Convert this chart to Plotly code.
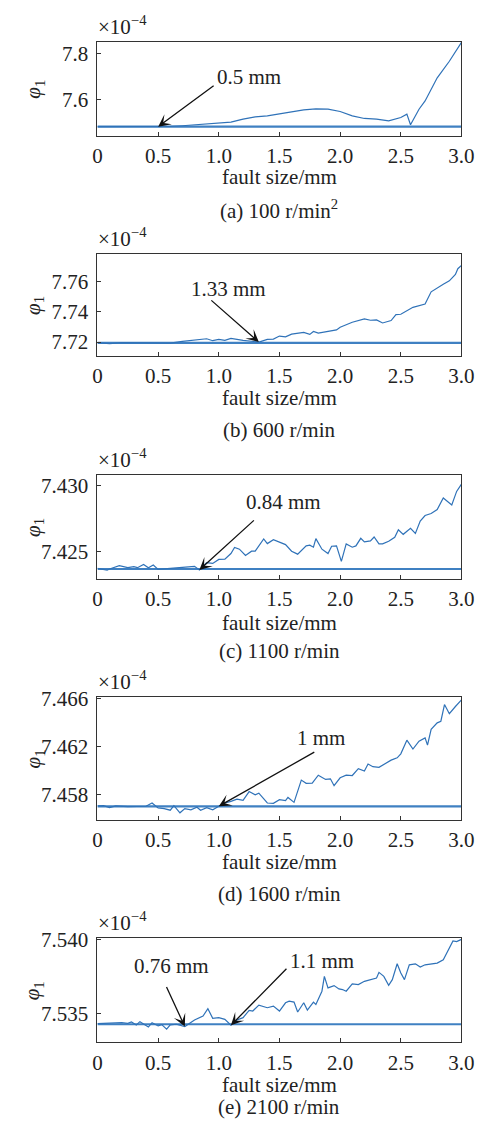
import plotly.graph_objects as go

W, H = 487, 1124
FONT = "Liberation Serif"
FS = 21
CURVE = "#2f72b8"
BASE = "#3f80c2"

# ---------------- data (values in units of 1e-4) ----------------
x_a = [0, 0.5, 0.6, 0.7, 0.8, 0.9, 1.0, 1.1, 1.2, 1.3, 1.4, 1.5, 1.6, 1.7, 1.8, 1.9, 2.0,
       2.1, 2.2, 2.3, 2.4, 2.5, 2.55, 2.58, 2.65, 2.7, 2.8, 2.9, 3.0]
y_a = [7.4835, 7.4835, 7.4849, 7.4878, 7.4921, 7.4950, 7.4993, 7.5036, 7.5165, 7.5266, 7.5309,
       7.5396, 7.5482, 7.5568, 7.5612, 7.5597, 7.5496, 7.5309, 7.5194, 7.5165, 7.5094, 7.5237,
       7.5381, 7.4921, 7.5597, 7.5957, 7.6964, 7.7683, 7.8504]

x_b = [0, 0.1, 0.2, 0.3, 0.4, 0.5, 0.6, 0.7, 0.8, 0.9, 0.95, 1.0, 1.05, 1.1, 1.2, 1.3, 1.33,
       1.4, 1.45, 1.5, 1.55, 1.6, 1.65, 1.7, 1.75, 1.78, 1.82, 1.9, 1.97, 2.0, 2.1, 2.2, 2.25,
       2.3, 2.35, 2.42, 2.46, 2.5, 2.6, 2.7, 2.75, 2.85, 2.9, 2.95, 2.97, 3.0]
y_b = [7.7196, 7.7190, 7.7196, 7.7195, 7.7194, 7.7194, 7.7193, 7.7204, 7.7215, 7.7222, 7.7209,
       7.7218, 7.7211, 7.7224, 7.7211, 7.7200, 7.7200, 7.7218, 7.7220, 7.7240, 7.7235, 7.7253,
       7.7259, 7.7264, 7.7251, 7.7270, 7.7259, 7.7270, 7.7281, 7.7299, 7.7332, 7.7354, 7.7345,
       7.7347, 7.7327, 7.7343, 7.7382, 7.7385, 7.7431, 7.7453, 7.7534, 7.7585, 7.7607, 7.7650,
       7.7688, 7.7710]

x_c = [0, 0.08, 0.1, 0.18, 0.25, 0.3, 0.33, 0.38, 0.42, 0.46, 0.5, 0.6, 0.7, 0.8, 0.84, 0.9,
       0.95, 1.0, 1.05, 1.1, 1.13, 1.17, 1.22, 1.27, 1.3, 1.37, 1.4, 1.45, 1.55, 1.6, 1.65, 1.72,
       1.75, 1.78, 1.8, 1.85, 1.9, 1.93, 1.97, 2.01, 2.05, 2.1, 2.13, 2.17, 2.2, 2.25, 2.28, 2.32,
       2.35, 2.4, 2.45, 2.48, 2.52, 2.58, 2.62, 2.66, 2.7, 2.75, 2.8, 2.85, 2.92, 2.96, 3.0]
y_c = [7.42375, 7.423625, 7.4237, 7.42395, 7.4238, 7.423875, 7.4238, 7.42405, 7.4238, 7.424,
       7.423675, 7.423775, 7.423825, 7.4239, 7.423625, 7.424175, 7.424125, 7.424425, 7.42445,
       7.424875, 7.425325, 7.4252, 7.424725, 7.42505, 7.42505, 7.425975, 7.425625, 7.425925,
       7.42555, 7.42505, 7.424825, 7.42545, 7.4255, 7.42535, 7.426, 7.4252, 7.424875, 7.425425,
       7.42545, 7.424275, 7.4256, 7.42535, 7.42545, 7.426025, 7.42575, 7.425825, 7.426125,
       7.4256, 7.4256, 7.4258, 7.4261, 7.426675, 7.426325, 7.426775, 7.4264, 7.427325, 7.42775,
       7.4279, 7.4282, 7.429075, 7.42855, 7.429575, 7.430125]

x_d = [0, 0.05, 0.1, 0.15, 0.25, 0.4, 0.45, 0.5, 0.55, 0.6, 0.63, 0.68, 0.72, 0.77, 0.82, 0.85,
       0.9, 0.95, 1.0, 1.05, 1.1, 1.15, 1.2, 1.25, 1.3, 1.33, 1.4, 1.45, 1.5, 1.55, 1.57, 1.62,
       1.68, 1.72, 1.77, 1.82, 1.88, 1.92, 1.95, 2.0, 2.05, 2.1, 2.15, 2.2, 2.23, 2.27, 2.32,
       2.38, 2.42, 2.47, 2.5, 2.55, 2.6, 2.65, 2.7, 2.72, 2.75, 2.8, 2.83, 2.86, 2.9, 2.95, 3.0]
y_d = [7.457078, 7.457105, 7.456942, 7.457078, 7.457024, 7.457051, 7.457322, 7.456915,
       7.456861, 7.456725, 7.457105, 7.456508, 7.456861, 7.456752, 7.456969, 7.456725,
       7.456942, 7.456752, 7.457051, 7.457322, 7.457458, 7.457647, 7.457539, 7.458271, 7.458,
       7.458136, 7.457322, 7.457295, 7.457593, 7.457512, 7.457783, 7.457376, 7.45922, 7.458949,
       7.458976, 7.459627, 7.459275, 7.459329, 7.458759, 7.45941, 7.459627, 7.4596, 7.46017,
       7.45998, 7.460549, 7.460332, 7.460278, 7.46063, 7.460875, 7.461065, 7.4614, 7.462529,
       7.461797, 7.462448, 7.462719, 7.462122, 7.463424, 7.463966, 7.464102, 7.465485,
       7.464726, 7.465322, 7.465865]

x_e = [0, 0.1, 0.2, 0.25, 0.28, 0.32, 0.35, 0.42, 0.45, 0.5, 0.53, 0.57, 0.6, 0.65, 0.72, 0.8,
       0.87, 0.91, 0.95, 1.0, 1.05, 1.1, 1.15, 1.2, 1.25, 1.28, 1.33, 1.4, 1.45, 1.5, 1.55, 1.58,
       1.62, 1.65, 1.7, 1.73, 1.78, 1.8, 1.85, 1.87, 1.9, 1.95, 1.99, 2.02, 2.05, 2.1, 2.15, 2.2,
       2.25, 2.3, 2.32, 2.36, 2.4, 2.43, 2.47, 2.5, 2.53, 2.57, 2.62, 2.66, 2.7, 2.75, 2.8, 2.85,
       2.9, 2.93, 2.96, 3.0]
y_e = [7.534302, 7.534324, 7.534369, 7.534324, 7.534414, 7.534212, 7.534437, 7.534077,
       7.534369, 7.534144, 7.534234, 7.533919, 7.534212, 7.534257, 7.534099, 7.53455, 7.53482,
       7.535315, 7.534662, 7.534707, 7.534595, 7.534189, 7.53455, 7.534707, 7.535203, 7.535158,
       7.535563, 7.535383, 7.535495, 7.535158, 7.535721, 7.535833, 7.535766, 7.53509, 7.535721,
       7.535225, 7.535766, 7.535608, 7.536509, 7.537522, 7.536734, 7.536892, 7.536666,
       7.536621, 7.536509, 7.537004, 7.536959, 7.537184, 7.537297, 7.53741, 7.537792, 7.537522,
       7.536914, 7.537297, 7.538378, 7.537747, 7.537297, 7.53831, 7.538378, 7.538153, 7.53831,
       7.538378, 7.538423, 7.538648, 7.539436, 7.539932, 7.539887, 7.540044]

baselines = [7.4835, 7.7195, 7.4237, 7.45705, 7.53426]
xs = [x_a, x_b, x_c, x_d, x_e]
ys = [y_a, y_b, y_c, y_d, y_e]

y_ranges = [[7.445, 7.852], [7.7108, 7.7785], [7.42293, 7.43083], [7.45591, 7.4661], [7.53302, 7.54011]]
y_tickvals = [[7.6, 7.8], [7.72, 7.74, 7.76], [7.425, 7.430], [7.458, 7.462, 7.466], [7.535, 7.540]]
y_ticktext = [["7.6", "7.8"], ["7.72", "7.74", "7.76"], ["7.425", "7.430"],
              ["7.458", "7.462", "7.466"], ["7.535", "7.540"]]
x_tickvals = [0, 0.5, 1.0, 1.5, 2.0, 2.5, 3.0]
x_ticktext = ["0", "0.5", "1.0", "1.5", "2.0", "2.5", "3.0"]

captions = ["(a) 100 r/min<sup>2</sup>", "(b) 600 r/min", "(c) 1100 r/min",
            "(d) 1600 r/min", "(e) 2100 r/min"]

# arrow annotations: (panel, head x, head y, tail dx px, tail dy px)
arrows = [(0, 0.5, 7.4835, 57, -42), (1, 1.33, 7.7200, -49, -43), (2, 0.84, 7.423625, 56, -51),
          (3, 1.0, 7.457051, 97, -55), (4, 0.72, 7.534099, -19, -41), (4, 1.1, 7.534189, 57, -58)]
labels = [("0.5 mm", 253.5, 68), ("1.33 mm", 232, 281.7), ("0.84 mm", 289.5, 496.7),
          ("1 mm", 328, 735), ("0.76 mm", 173, 965), ("1.1 mm", 329.5, 960)]

# ---------------- layout (pixel boxes) ----------------
box_x = (96, 474)
box_y = [(32.3, 126.7), (246.3, 349), (469, 574.3), (693.3, 817.3), (936.7, 1041.7)]
xtitle_y = [168, 391.7, 618.3, 860, 1085]
caption_y = [201.7, 423.3, 646.7, 891.7, 1106.7]


def px(p):
    return p / W


def py(p):
    return 1 - p / H


fig = go.Figure()
layout = dict(width=W, height=H, margin=dict(l=0, r=0, t=0, b=0), autosize=False,
              paper_bgcolor="white", plot_bgcolor="white", showlegend=False,
              font=dict(family=FONT, size=FS, color="#222"))
annotations = []
txtfont = dict(family=FONT, size=FS, color="#222")

for i in range(5):
    sfx = "" if i == 0 else str(i + 1)
    xa, ya = "x" + sfx, "y" + sfx
    fig.add_trace(go.Scatter(x=[0, 3], y=[baselines[i], baselines[i]], mode="lines",
                             line=dict(color=BASE, width=2.2), xaxis=xa, yaxis=ya,
                             hoverinfo="skip"))
    fig.add_trace(go.Scatter(x=xs[i], y=ys[i], mode="lines",
                             line=dict(color=CURVE, width=1.2), xaxis=xa, yaxis=ya))
    top, bot = box_y[i]
    layout["xaxis" + sfx] = dict(
        domain=[px(box_x[0]), px(box_x[1])], anchor=ya, range=[0, 3],
        tickvals=x_tickvals, ticktext=x_ticktext, ticks="inside", ticklen=4,
        tickcolor="#333", showline=True, linecolor="#333", linewidth=1, mirror=True,
        showgrid=False, zeroline=False, ticklabelstandoff=1, ticklabeloverflow="allow",
        tickfont=txtfont)
    layout["yaxis" + sfx] = dict(
        domain=[py(bot), py(top)], anchor=xa, range=y_ranges[i],
        tickvals=y_tickvals[i], ticktext=y_ticktext[i], ticks="inside", ticklen=4,
        tickcolor="#333", showline=True, linecolor="#333", linewidth=1, mirror=True,
        showgrid=False, zeroline=False, ticklabelstandoff=4, ticklabeloverflow="allow",
        tickfont=txtfont)
    cx = (box_x[0] + box_x[1]) / 2
    annotations.append(dict(text="fault size/mm", x=px(cx), y=py(xtitle_y[i]), xref="paper",
                            yref="paper", showarrow=False, xanchor="center", yanchor="middle",
                            font=txtfont))
    annotations.append(dict(text=captions[i], x=px(cx), y=py(caption_y[i]), xref="paper",
                            yref="paper", showarrow=False, xanchor="center", yanchor="middle",
                            font=txtfont))
    annotations.append(dict(text="×10<sup>−4</sup>", x=px(box_x[0] - 2), y=py(top - 1),
                            xref="paper", yref="paper", showarrow=False, xanchor="left",
                            yanchor="bottom", font=txtfont))
    annotations.append(dict(text="<i>φ</i><sub>1</sub>", x=px(30), y=py((top + bot) / 2),
                            xref="paper", yref="paper", showarrow=False, textangle=-90,
                            xanchor="center", yanchor="middle", font=txtfont))

for (i, hx, hy, dx, dy) in arrows:
    sfx = "" if i == 0 else str(i + 1)
    annotations.append(dict(text="", x=hx, y=hy, xref="x" + sfx, yref="y" + sfx,
                            ax=dx, ay=dy, showarrow=True, arrowhead=3, arrowsize=1.6,
                            arrowwidth=1.3, arrowcolor="#111", standoff=0))

for (t, lx, ly) in labels:
    annotations.append(dict(text=t, x=px(lx), y=py(ly), xref="paper", yref="paper",
                            showarrow=False, xanchor="center", yanchor="middle",
                            font=txtfont))

layout["annotations"] = annotations
fig.update_layout(**layout)
fig.write_html("out.html")
